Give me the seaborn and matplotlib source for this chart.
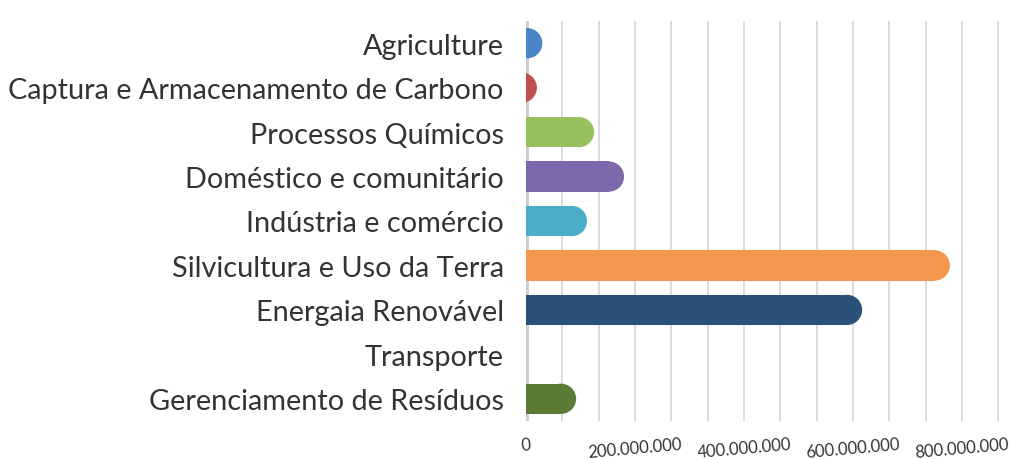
import numpy as np
import matplotlib
matplotlib.use('Agg')
import matplotlib.pyplot as plt
import matplotlib.ticker as mticker
from matplotlib.patches import Rectangle, Circle
from matplotlib.transforms import IdentityTransform
import seaborn as sns

# data
aCategory = ['Agriculture',
             'Captura e Armacenamento de Carbono',
             'Processos Químicos',
             'Doméstico e comunitário',
             'Indústria e comércio',
             'Silvicultura e Uso da Terra',
             'Energaia Renovável',
             'Transporte',
             'Gerenciamento de Resíduos']
aValue = [30e6, 20e6, 125e6, 180e6, 112e6, 778e6, 617e6, 0.0, 92e6]
aColor = ['#4a86c6', '#c0504d', '#97c05e', '#7f67ab', '#4aaecb',
          '#f5964f', '#2a5278', '#772c2a', '#5a7a35']
aTick = [0, 200e6, 400e6, 600e6, 800e6]

sns.set_style('white')
plt.rcParams['font.family'] = ['Lato', 'DejaVu Sans']

fig = plt.figure(figsize=(10.13, 4.6), dpi=100)
ax = fig.add_axes([526 / 1013, 1 - 422 / 460, (1000 - 526) / 1013, (422 - 22) / 460])

sns.barplot(x=aValue, y=aCategory, hue=aCategory, palette=aColor, saturation=1,
            orient='h', width=0.68, legend=False, ax=ax)

ax.set_xlim(0, 870e6)
ax.set_ylim(len(aCategory) - 0.5, -0.5)

# light vertical grid
ax.xaxis.set_minor_locator(mticker.MultipleLocator(800e6 / 12))
ax.set_xticks(aTick)
ax.xaxis.set_major_formatter(mticker.FuncFormatter(lambda v, p: '{:,}'.format(int(v)).replace(',', '.')))
ax.grid(axis='x', which='both', color='#dcdcdc', lw=1.4)
ax.set_axisbelow(True)
ax.axvline(0, color='#cdcdcd', lw=3.5, zorder=5)

for s in ax.spines.values():
    s.set_visible(False)
ax.tick_params(axis='both', which='both', length=0)
ax.tick_params(axis='y', pad=16, labelsize=20.8, labelcolor='#333333')
ax.tick_params(axis='x', pad=11, labelsize=12, labelcolor='#333333')
for lab in ax.get_xticklabels():
    lab.set_rotation(5)
    lab.set_ha('center')
ax.set_xlabel('')
ax.set_ylabel('')

# replace the square bars by bars with a rounded right end
fig.canvas.draw()
for bar in list(ax.patches):
    x0, y0 = ax.transData.transform((bar.get_x(), bar.get_y()))
    x1, y1 = ax.transData.transform((bar.get_x() + bar.get_width(), bar.get_y() + bar.get_height()))
    ylo, yhi = min(y0, y1), max(y0, y1)
    r = (yhi - ylo) / 2
    fc = bar.get_facecolor()
    xc = x1 - r
    if xc > x0:
        rect = Rectangle((x0 - 1, ylo), xc - x0 + 1, yhi - ylo, facecolor=fc, edgecolor='none',
                         transform=IdentityTransform(), zorder=3)
        rect.set_clip_path(ax.patch)
        fig.add_artist(rect)
    circ = Circle((xc, ylo + r), r, facecolor=fc, edgecolor='none',
                  transform=IdentityTransform(), zorder=3)
    circ.set_clip_box(ax.bbox)
    fig.add_artist(circ)
    bar.set_visible(False)

fig.savefig('out.png', dpi=100)
